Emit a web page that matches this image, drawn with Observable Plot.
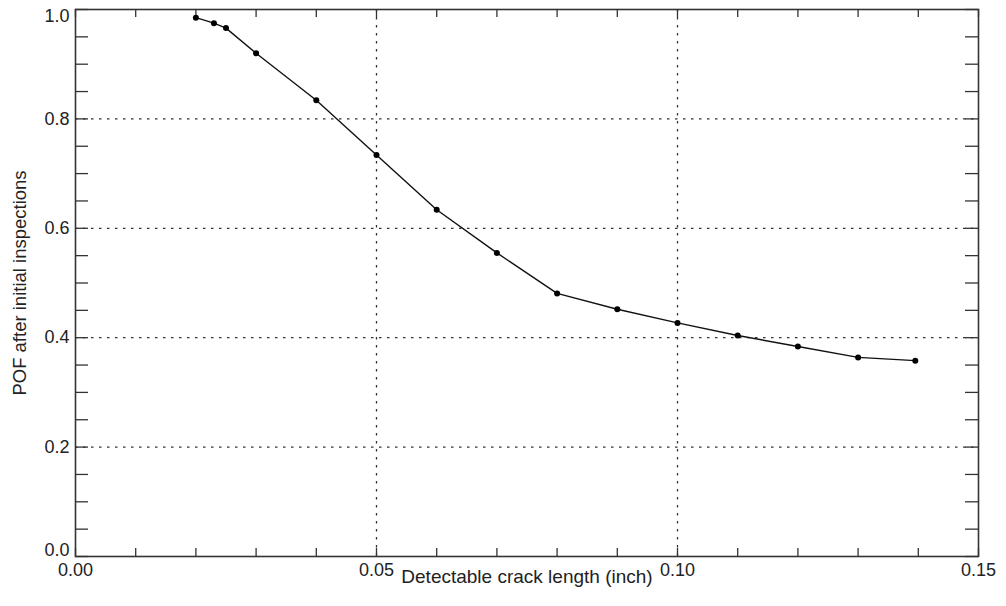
<!DOCTYPE html>
<html>
<head>
<meta charset="utf-8">
<script src="https://cdn.jsdelivr.net/npm/d3@7"></script>
<script src="https://cdn.jsdelivr.net/npm/@observablehq/plot@0.6"></script>
<style>
  html, body { margin: 0; padding: 0; background: #fff; }
</style>
</head>
<body>
<div id="chart"></div>
<script>
const crackLength = [0.020, 0.023, 0.025, 0.030, 0.040, 0.050, 0.060, 0.070, 0.080, 0.090, 0.100, 0.110, 0.120, 0.130, 0.1395];
const pof = [0.985, 0.975, 0.966, 0.920, 0.834, 0.734, 0.634, 0.555, 0.481, 0.452, 0.427, 0.404, 0.384, 0.364, 0.358];

const xMajor = [0, 0.05, 0.10, 0.15];
const yMid = [0.2, 0.4, 0.6, 0.8];
const yTop = [1.0];
const yBottom = [0];
const xGrid = [0.05, 0.10];
const yGrid = [0.2, 0.4, 0.6, 0.8];
const xMinor = d3.range(0, 16).map(i => i / 100);
const yMinor = d3.range(0, 21).map(i => i / 20);
const xTitle = "Detectable crack length (inch)";
const yTitle = "POF after initial inspections";

const data = crackLength.map((x, i) => ({x, y: pof[i]}));

const W = 1006, H = 606;
const mL = 75, mR = 28, mT = 9, mB = 50;
const pw = W - mL - mR, ph = H - mT - mB;
const fontFamily = "'Liberation Sans', Arial, Helvetica, sans-serif";
const ink = "#222";
const yAxisOpts = {anchor: "left", tickSize: 0, tickPadding: 6, tickFormat: d3.format(".1f"), fontSize: 18, label: null, fill: ink};

const chart = Plot.plot({
  width: W,
  height: H,
  marginLeft: mL,
  marginRight: mR,
  marginTop: mT,
  marginBottom: mB,
  style: {fontFamily, fontSize: "18px", color: ink, background: "#fff"},
  x: {domain: [0, 0.15]},
  y: {domain: [0, 1]},
  marks: [
    Plot.ruleX(xGrid, {stroke: "#333", strokeWidth: 1.3, strokeDasharray: "2.5,5.5"}),
    Plot.ruleY(yGrid, {stroke: "#333", strokeWidth: 1.3, strokeDasharray: "2.5,5.5"}),
    // minor ticks, pointing inward
    Plot.tickX(xMinor, {x: d => d, insetTop: ph - 8, stroke: "#333", strokeWidth: 1.3}),
    Plot.tickX(xMinor, {x: d => d, insetBottom: ph - 8, stroke: "#333", strokeWidth: 1.3}),
    Plot.tickY(yMinor, {y: d => d, insetRight: pw - 13, stroke: "#333", strokeWidth: 1.3}),
    Plot.tickY(yMinor, {y: d => d, insetLeft: pw - 13, stroke: "#333", strokeWidth: 1.3}),
    Plot.frame({stroke: "#333", strokeWidth: 1.6}),
    Plot.axisX({anchor: "bottom", ticks: xMajor, tickSize: 0, tickPadding: 7, tickFormat: d3.format(".2f"), fontSize: 18, label: null, fill: ink}),
    Plot.axisY({...yAxisOpts, ticks: yMid}),
    Plot.axisY({...yAxisOpts, ticks: yTop, dy: 7}),
    Plot.axisY({...yAxisOpts, ticks: yBottom, dy: -6}),
    Plot.line(data, {x: "x", y: "y", stroke: "#111", strokeWidth: 1.4}),
    Plot.dot(data, {x: "x", y: "y", r: 3, fill: "#000", stroke: "none"}),
    Plot.text([xTitle], {text: d => d, frameAnchor: "bottom", textAnchor: "middle", dy: 26, fontSize: 19, fill: ink}),
    Plot.text([yTitle], {text: d => d, frameAnchor: "left", textAnchor: "middle", rotate: -90, dx: -55, fontSize: 18.5, fill: ink})
  ]
});
document.getElementById("chart").appendChild(chart);
</script>
</body>
</html>
